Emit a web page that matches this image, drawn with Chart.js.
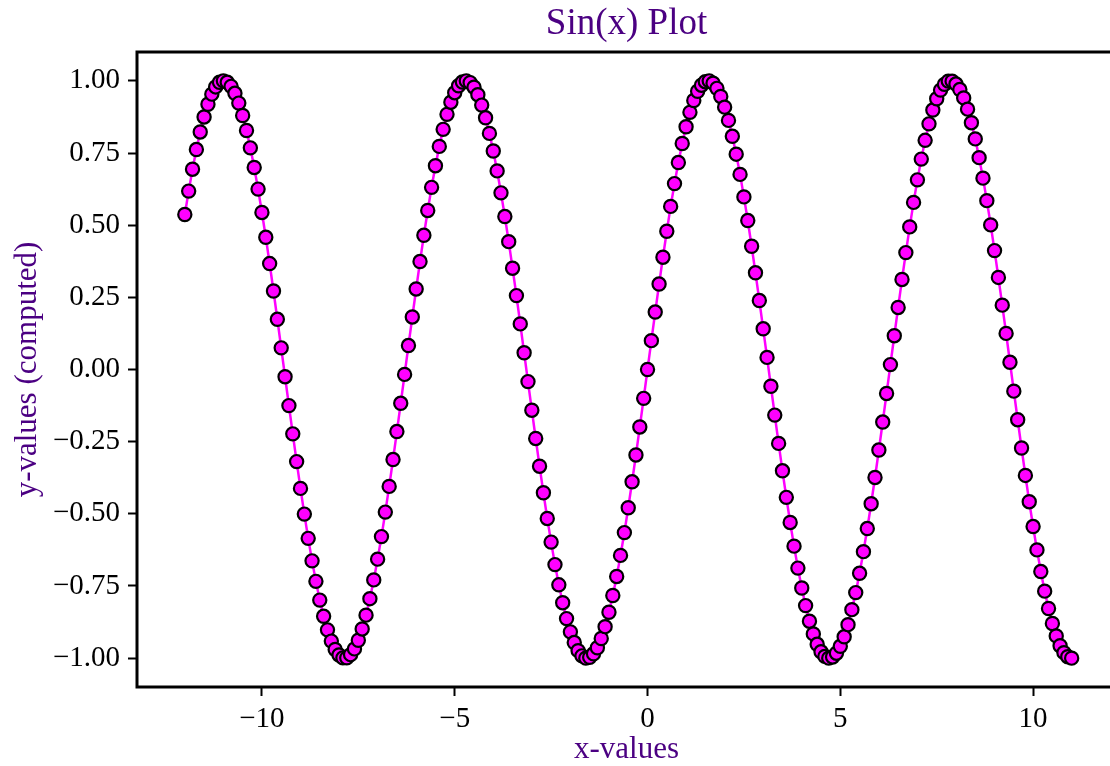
<!DOCTYPE html>
<html>
<head>
<meta charset="utf-8">
<title>Sin(x) Plot</title>
<script src="https://cdn.jsdelivr.net/npm/chart.js@4.4.1/dist/chart.umd.min.js"></script>
<style>
  html, body { margin: 0; padding: 0; background: #fff; overflow: hidden; }
  #wrap { position: relative; width: 1130px; height: 766px; }
</style>
</head>
<body>
<div id="wrap"><canvas id="sinChart"></canvas></div>
<script>
// ==========================
// Data
// ==========================
const xValues = [
  -12, -11.9, -11.8, -11.7, -11.6, -11.5, -11.4, -11.3, -11.2, -11.1,
  -11, -10.9, -10.8, -10.7, -10.6, -10.5, -10.4, -10.3, -10.2, -10.1,
  -10, -9.9, -9.8, -9.7, -9.6, -9.5, -9.4, -9.3, -9.2, -9.1,
  -9, -8.9, -8.8, -8.7, -8.6, -8.5, -8.4, -8.3, -8.2, -8.1,
  -8, -7.9, -7.8, -7.7, -7.6, -7.5, -7.4, -7.3, -7.2, -7.1,
  -7, -6.9, -6.8, -6.7, -6.6, -6.5, -6.4, -6.3, -6.2, -6.1,
  -6, -5.9, -5.8, -5.7, -5.6, -5.5, -5.4, -5.3, -5.2, -5.1,
  -5, -4.9, -4.8, -4.7, -4.6, -4.5, -4.4, -4.3, -4.2, -4.1,
  -4, -3.9, -3.8, -3.7, -3.6, -3.5, -3.4, -3.3, -3.2, -3.1,
  -3, -2.9, -2.8, -2.7, -2.6, -2.5, -2.4, -2.3, -2.2, -2.1,
  -2, -1.9, -1.8, -1.7, -1.6, -1.5, -1.4, -1.3, -1.2, -1.1,
  -1, -0.9, -0.8, -0.7, -0.6, -0.5, -0.4, -0.3, -0.2, -0.1,
  0, 0.1, 0.2, 0.3, 0.4, 0.5, 0.6, 0.7, 0.8, 0.9,
  1, 1.1, 1.2, 1.3, 1.4, 1.5, 1.6, 1.7, 1.8, 1.9,
  2, 2.1, 2.2, 2.3, 2.4, 2.5, 2.6, 2.7, 2.8, 2.9,
  3, 3.1, 3.2, 3.3, 3.4, 3.5, 3.6, 3.7, 3.8, 3.9,
  4, 4.1, 4.2, 4.3, 4.4, 4.5, 4.6, 4.7, 4.8, 4.9,
  5, 5.1, 5.2, 5.3, 5.4, 5.5, 5.6, 5.7, 5.8, 5.9,
  6, 6.1, 6.2, 6.3, 6.4, 6.5, 6.6, 6.7, 6.8, 6.9,
  7, 7.1, 7.2, 7.3, 7.4, 7.5, 7.6, 7.7, 7.8, 7.9,
  8, 8.1, 8.2, 8.3, 8.4, 8.5, 8.6, 8.7, 8.8, 8.9,
  9, 9.1, 9.2, 9.3, 9.4, 9.5, 9.6, 9.7, 9.8, 9.9,
  10, 10.1, 10.2, 10.3, 10.4, 10.5, 10.6, 10.7, 10.8, 10.9,
  11
];

const yValues = [
  0.537, 0.618, 0.694, 0.762, 0.823, 0.875, 0.919, 0.954, 0.979, 0.995,
  1.000, 0.995, 0.981, 0.957, 0.923, 0.880, 0.828, 0.768, 0.700, 0.625,
  0.544, 0.458, 0.367, 0.272, 0.174, 0.075, -0.025, -0.125, -0.223, -0.319,
  -0.412, -0.501, -0.585, -0.663, -0.734, -0.799, -0.855, -0.902, -0.941, -0.970,
  -0.989, -0.999, -0.999, -0.988, -0.968, -0.938, -0.899, -0.851, -0.794, -0.729,
  -0.657, -0.579, -0.494, -0.405, -0.312, -0.215, -0.117, -0.017, 0.083, 0.182,
  0.279, 0.374, 0.465, 0.551, 0.631, 0.706, 0.773, 0.832, 0.884, 0.926,
  0.959, 0.983, 0.996, 1.000, 0.994, 0.978, 0.952, 0.916, 0.872, 0.818,
  0.757, 0.688, 0.612, 0.530, 0.443, 0.351, 0.256, 0.158, 0.058, -0.042,
  -0.141, -0.239, -0.335, -0.427, -0.516, -0.598, -0.676, -0.746, -0.808, -0.863,
  -0.909, -0.946, -0.974, -0.992, -1.000, -0.997, -0.985, -0.964, -0.932, -0.891,
  -0.841, -0.783, -0.717, -0.644, -0.565, -0.479, -0.389, -0.296, -0.199, -0.100,
  0.000, 0.100, 0.199, 0.296, 0.389, 0.479, 0.565, 0.644, 0.717, 0.783,
  0.841, 0.891, 0.932, 0.964, 0.985, 0.997, 1.000, 0.992, 0.974, 0.946,
  0.909, 0.863, 0.808, 0.746, 0.676, 0.598, 0.516, 0.427, 0.335, 0.239,
  0.141, 0.042, -0.058, -0.158, -0.256, -0.351, -0.443, -0.530, -0.612, -0.688,
  -0.757, -0.818, -0.872, -0.916, -0.952, -0.978, -0.994, -1.000, -0.996, -0.983,
  -0.959, -0.926, -0.884, -0.832, -0.773, -0.706, -0.631, -0.551, -0.465, -0.374,
  -0.279, -0.182, -0.083, 0.017, 0.117, 0.215, 0.312, 0.405, 0.494, 0.579,
  0.657, 0.729, 0.794, 0.851, 0.899, 0.938, 0.968, 0.988, 0.999, 0.999,
  0.989, 0.970, 0.941, 0.902, 0.855, 0.799, 0.734, 0.663, 0.585, 0.501,
  0.412, 0.319, 0.223, 0.125, 0.025, -0.075, -0.174, -0.272, -0.367, -0.458,
  -0.544, -0.625, -0.700, -0.768, -0.828, -0.880, -0.923, -0.957, -0.981, -0.995,
  -1.000
];

const xTicks = [-10, -5, 0, 5, 10];
const yTicks = [-1.00, -0.75, -0.50, -0.25, 0.00, 0.25, 0.50, 0.75, 1.00];

// ==========================
// Styling
// ==========================
const SERIF  = "'Liberation Serif', 'Times New Roman', serif";
const PURPLE = "#4B0082";
const MINUS  = "\u2212";

function fmt(v, digits) {
  const s = Math.abs(v).toFixed(digits);
  return v < 0 ? MINUS + s : s;
}

// draws the four spines on top of the data, like matplotlib
const framePlugin = {
  id: "frame",
  afterDatasetsDraw(chart) {
    const { ctx, chartArea: a } = chart;
    ctx.save();
    ctx.strokeStyle = "#000";
    ctx.lineWidth = 3;
    ctx.strokeRect(a.left, a.top, a.right - a.left, a.bottom - a.top);
    ctx.restore();
  }
};

const points = xValues.map((x, i) => ({ x: x, y: yValues[i] }));

new Chart(document.getElementById("sinChart"), {
  type: "line",
  data: {
    datasets: [{
      data: points,
      borderColor: "#FF00FF",
      borderWidth: 2.5,
      backgroundColor: "#FF00FF",
      pointBackgroundColor: "#FF00FF",
      pointBorderColor: "#000",
      pointBorderWidth: 2.2,
      pointRadius: 6.6,
      tension: 0,
      fill: false,
      clip: false
    }]
  },
  options: {
    responsive: true,
    maintainAspectRatio: false,
    animation: false,
    events: [],
    layout: { padding: { left: 0, right: 14, top: 0, bottom: 0 } },
    plugins: {
      legend: { display: false },
      tooltip: { enabled: false },
      title: {
        display: true,
        fullSize: false,
        text: "Sin(x) Plot",
        color: PURPLE,
        font: { family: SERIF, size: 37, weight: "normal", lineHeight: 1.2 },
        padding: { top: 2, bottom: 5.6 }
      }
    },
    scales: {
      x: {
        type: "linear",
        min: -13.24,
        max: 12.15,
        afterBuildTicks: s => { s.ticks = xTicks.map(v => ({ value: v })); },
        afterFit: s => { s.height = 79; },
        border: { display: false },
        grid: {
          drawOnChartArea: false, drawTicks: true,
          tickLength: 9, tickWidth: 2, tickColor: "#000"
        },
        ticks: {
          color: "#000",
          padding: 6,
          maxRotation: 0,
          font: { family: SERIF, size: 29 },
          callback: v => fmt(v, 0)
        },
        title: {
          display: true,
          text: "x-values",
          color: PURPLE,
          font: { family: SERIF, size: 31, lineHeight: 1 },
          padding: { top: 0, bottom: 1 }
        }
      },
      y: {
        type: "linear",
        min: -1.1,
        max: 1.1,
        afterBuildTicks: s => { s.ticks = yTicks.map(v => ({ value: v })); },
        afterFit: s => { s.width = 137; },
        border: { display: false },
        grid: {
          drawOnChartArea: false, drawTicks: true,
          tickLength: 9, tickWidth: 2, tickColor: "#000"
        },
        ticks: {
          color: "#000",
          padding: 8,
          font: { family: SERIF, size: 29 },
          callback: v => fmt(v, 2)
        },
        title: {
          display: true,
          text: "y-values (computed)",
          color: PURPLE,
          font: { family: SERIF, size: 31, lineHeight: 1 },
          padding: { top: 12, bottom: 0 }
        }
      }
    }
  },
  plugins: [framePlugin]
});
</script>
</body>
</html>
